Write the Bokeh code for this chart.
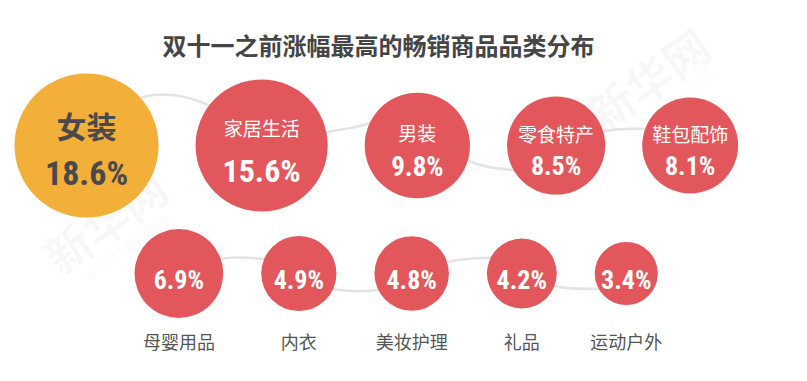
import numpy as np
from bokeh.plotting import figure
from bokeh.models import Range1d, ColumnDataSource
from bokeh.core.properties import value
from bokeh.embed import file_html
from bokeh.resources import INLINE

# ---- data ----
title = "双十一之前涨幅最高的畅销商品品类分布"
categories = ["女装", "家居生活", "男装", "零食特产", "鞋包配饰",
              "母婴用品", "内衣", "美妆护理", "礼品", "运动户外"]
values = [18.6, 15.6, 9.8, 8.5, 8.1, 6.9, 4.9, 4.8, 4.2, 3.4]
row = [0, 0, 0, 0, 0, 1, 1, 1, 1, 1]

# ---- layout / style ----
W, H = 791, 365
CJK = "Noto Sans CJK SC"
NUMF = "'Roboto Condensed', 'DejaVu Sans Condensed', Roboto, sans-serif"
ORANGE = "#F2B03A"
RED = "#E2575C"
DARK = "#4a4a4a"

row_left = {0: 22, 1: 142}
row_gap = {0: 37, 1: 38}
row_y = {0: 153, 1: 281}

radii = [1.3 + 16.4 * np.sqrt(v) for v in values]
xs, cursor = [], {}
for r, rw in zip(radii, row):
    if rw not in cursor:
        cursor[rw] = row_left[rw]
    else:
        cursor[rw] += row_gap[rw]
    xs.append(cursor[rw] + r)
    cursor[rw] += 2 * r
ys = [row_y[rw] for rw in row]

p = figure(width=W, height=H, x_range=Range1d(8, 8 + W), y_range=Range1d(8 + H, 8),
           output_backend="svg", toolbar_location=None, min_border=0)
p.axis.visible = False
p.grid.visible = False
p.outline_line_color = None
p.background_fill_color = "white"
p.border_fill_color = "white"

# watermark
p.text(x=[655, 112], y=[86, 228], text=["新华网", "新华网"], angle=0.62,
       text_font=value(CJK), text_font_size="46px", text_font_style="bold",
       text_color="#000000", text_alpha=0.035, text_align="center", text_baseline="middle")
p.text(x=[680, 135], y=[112, 254], text=["WWW.NEWS.CN", "WWW.NEWS.CN"], angle=0.62,
       text_font=value("DejaVu Sans"), text_font_size="13px",
       text_color="#000000", text_alpha=0.035, text_align="center", text_baseline="middle")

# connectors (exit angle, entry angle, start slope, end slope) per gap
gap_style = {0: [(-42, -142, -0.35, 0.45), (-11, -152, -0.35, -0.5),
                 (16, 148, 0.5, 0.1), (-17, -159, -0.2, 0.05)],
             1: [(-20, -157, -0.15, 0.15), (26, 153, 0.15, -0.15),
                 (-18, -151, -0.3, -0.05), (21, 149, 0.3, 0.0)]}
bx0, by0, bx1, by1, bcx0, bcy0, bcx1, bcy1 = ([] for _ in range(8))
for rw in (0, 1):
    idx = [i for i, q in enumerate(row) if q == rw]
    for k, (a, b, s0, s1) in enumerate(gap_style[rw]):
        i, j = idx[k], idx[k + 1]
        ax, ay = xs[i] + (radii[i] - 2) * np.cos(np.radians(a)), ys[i] + (radii[i] - 2) * np.sin(np.radians(a))
        ex, ey = xs[j] + (radii[j] - 2) * np.cos(np.radians(b)), ys[j] + (radii[j] - 2) * np.sin(np.radians(b))
        d = (ex - ax) / 3
        bx0.append(ax); by0.append(ay); bx1.append(ex); by1.append(ey)
        bcx0.append(ax + d); bcy0.append(ay + s0 * d)
        bcx1.append(ex - d); bcy1.append(ey - s1 * d)
p.bezier(x0=bx0, y0=by0, x1=bx1, y1=by1, cx0=bcx0, cy0=bcy0, cx1=bcx1, cy1=bcy1,
         line_color="#e3e3e3", line_width=2.5)

# circles
colors = [ORANGE] + [RED] * (len(values) - 1)
p.circle(x=xs, y=ys, radius=radii, fill_color=colors, line_color=None)

# number labels
num_y, num_size, num_col = [], [], []
for i, (r, rw) in enumerate(zip(radii, row)):
    num_y.append(ys[i] + (0.3 * r if rw == 0 else 0) + 6)
    num_size.append("%.0fpx" % max(26, 10 + 0.33 * r))
    num_col.append(DARK if i == 0 else "white")
src_num = ColumnDataSource(dict(x=xs, y=num_y, t=["%.1f%%" % v for v in values],
                                s=num_size, c=num_col))
p.text(x="x", y="y", text="t", source=src_num, text_font=value(NUMF),
       text_font_style="bold", text_font_size="s", text_color="c",
       text_align="center", text_baseline="middle")

# category labels
lab_y, lab_size, lab_col = [], [], []
for i, (r, rw) in enumerate(zip(radii, row)):
    if rw == 0:
        lab_y.append(ys[i] - 0.35 * r + 5)
        lab_size.append("19px")
        lab_col.append("white")
    else:
        lab_y.append(row_y[1] + 67)
        lab_size.append("18px")
        lab_col.append("#555555")
src_lab = ColumnDataSource(dict(x=xs[1:], y=lab_y[1:], t=categories[1:],
                                s=lab_size[1:], c=lab_col[1:]))
p.text(x="x", y="y", text="t", source=src_lab, text_font=value(CJK),
       text_font_size="s", text_color="c", text_align="center", text_baseline="middle")
p.text(x=[xs[0]], y=[lab_y[0]], text=[categories[0]], text_font=value(CJK),
       text_font_style="bold", text_font_size="30px", text_color=DARK,
       text_align="center", text_baseline="middle")

# title
p.text(x=[386], y=[52], text=[title], text_font=value(CJK), text_font_style="bold",
       text_font_size="24px", text_color="#454545", text_align="center", text_baseline="middle")

open("out.html", "w").write(file_html(p, INLINE))
